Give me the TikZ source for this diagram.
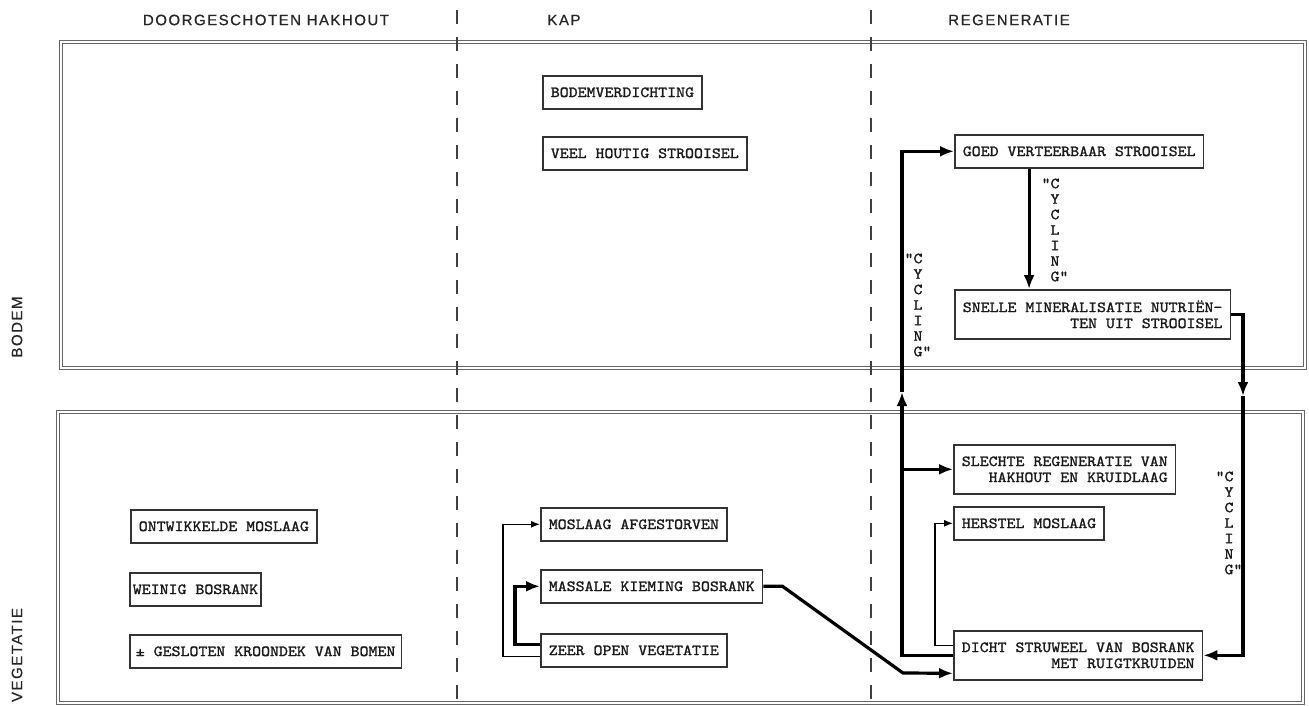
\documentclass[tikz,border=0pt]{standalone}
\usepackage{fontspec}
\setmainfont{Liberation Sans}
\newfontfamily\boxfont[FakeStretch=1.1, FakeBold=1.4]{lmmono10-regular.otf}
\newfontfamily\headfont[LetterSpace=10, FakeBold=0.6]{Liberation Sans}
\usetikzlibrary{calc,arrows.meta}

\tikzset{
  statebox/.style={draw=black!80, line width=1.6pt, anchor=north west,
    font=\boxfont\fontsize{15.5}{16}\selectfont, inner xsep=8pt,
    minimum height=33pt, align=right, text=black!90},
  twoline/.style={minimum height=49pt},
  cycling/.style={font=\boxfont\fontsize{15.5}{15.5}\selectfont, align=center, inner sep=0pt, text=black!90},
  heading/.style={font=\headfont\fontsize{15}{18}\selectfont, inner sep=0pt, text=black!85},
  panel/.style={draw=black!60, double, double distance=1.6pt, line width=1pt},
  phaseline/.style={draw=black!75, line width=1.1pt, dash pattern=on 14pt off 13pt},
  bigarrow/.style={line width=3.2pt, -{Latex[length=14pt,width=11pt]}},
  smallarrow/.style={line width=1.2pt, -{Latex[length=9pt,width=7pt]}},
}

\begin{document}
\begin{tikzpicture}[x=1pt, y=-1pt]
    \useasboundingbox (0,0) rectangle (1309,706);

    % Draw the two layers (bodem, vegetatie)
    \draw[panel] (61,42) rectangle (1305,368);
    \draw[panel] (58,412) rectangle (1303,703);

    % Draw dashed lines between the phases
    \draw[phaseline] (457,10) -- (457,706);
    \draw[phaseline] (871,10) -- (871,706);

    % Label phases and layers
    \node[heading] (hdrdoor) at (266,20) {DOORGESCHOTEN HAKHOUT};
    \node[heading] (hdrkap) at (564,20) {KAP};
    \node[heading] (hdrregen) at (1009,20) {REGENERATIE};
    \node[heading, rotate=90] (lblbodem) at (17,327) {BODEM};
    \node[heading, rotate=90] (lblveg) at (17,655) {VEGETATIE};

    % Boxes in the bodem layer
    \node[statebox] (bodemverd) at (542,75) {BODEMVERDICHTING};
    \node[statebox] (veelhout) at (542,136) {VEEL HOUTIG STROOISEL};
    \node[statebox] (goed) at (954,134) {GOED VERTEERBAAR STROOISEL};
    \node[statebox, twoline] (snelle) at (954,289) {SNELLE MINERALISATIE NUTRIËN-\\TEN UIT STROOISEL};

    % Boxes in the vegetatie layer
    \node[statebox] (ontw) at (130,509) {ONTWIKKELDE MOSLAAG};
    \node[statebox, inner xsep=3pt] (weinig) at (129,572) {WEINIG BOSRANK};
    \node[statebox, inner xsep=6pt] (kroondek) at (129,634) {± GESLOTEN KROONDEK VAN BOMEN};
    \node[statebox] (moslaag) at (540,507) {MOSLAAG AFGESTORVEN};
    \node[statebox] (massale) at (540,569) {MASSALE KIEMING BOSRANK};
    \node[statebox] (zeer) at (540,633) {ZEER OPEN VEGETATIE};
    \node[statebox, twoline] (slechte) at (953,444) {SLECHTE REGENERATIE VAN\\HAKHOUT EN KRUIDLAAG};
    \node[statebox] (herstel) at (953,506) {HERSTEL MOSLAAG};
    \node[statebox, twoline] (dicht) at (953,630) {DICHT STRUWEEL VAN BOSRANK\\MET RUIGTKRUIDEN};

    % Define points for the bends
    \coordinate (gs) at ($(goed.south west)!0.3!(goed.south east)$);
    \coordinate (lx) at (902,0);
    \coordinate (lmid) at (902,392);
    \coordinate (rmid) at (1243,396);
    \coordinate (hx) at (935,0);
    \coordinate (bendB) at (903,673);
    \coordinate (zx) at (515,0);
    \coordinate (mx) at (503,0);

    % Draw the cycling loops
    \draw[bigarrow] (gs) -- (gs |- snelle.north);
    \draw[bigarrow] (snelle.east) -| (rmid);
    \draw[bigarrow] (rmid) |- (dicht.east);
    \draw[bigarrow] (dicht.west) -| (lmid);
    \draw[bigarrow] (lmid) |- (goed.west);
    \draw[bigarrow] (lx |- slechte.west) -- (slechte.west);
    \draw[smallarrow] ([yshift=10pt]dicht.west) -| (hx |- herstel.west) -- (herstel.west);

    % Draw the arrows of the kap phase
    \draw[bigarrow] (massale.east) -- ++(19,0) -- (bendB) -- ([yshift=-18pt]dicht.west);
    \draw[bigarrow] ([yshift=6pt]zeer.west) -| (zx |- massale.west) -- (massale.west);
    \draw[smallarrow] ([yshift=-6pt]zeer.west) -| (mx |- moslaag.west) -- (moslaag.west);

    % Label the loops
    \node[cycling] (cycA) at (1055,230) {\llap{"}C\\Y\\C\\L\\I\\N\\G\rlap{"}};
    \node[cycling] (cycB) at (918,305) {\llap{"}C\\Y\\C\\L\\I\\N\\G\rlap{"}};
    \node[cycling] (cycC) at (1229,523) {\llap{"}C\\Y\\C\\L\\I\\N\\G\rlap{"}};

\end{tikzpicture}
\end{document}
